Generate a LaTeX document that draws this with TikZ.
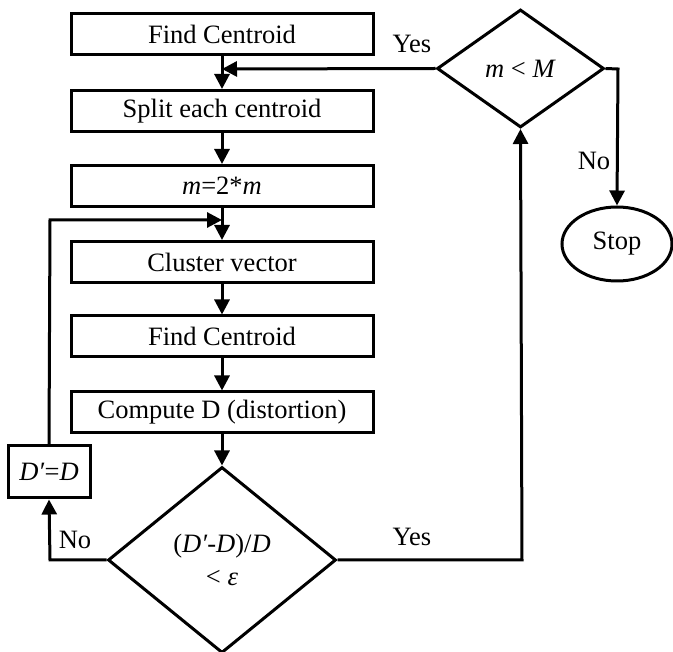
\documentclass[tikz,border=0pt]{standalone}
\usepackage{fontspec}
\setmainfont{Liberation Serif}
\usetikzlibrary{shapes.geometric,arrows.meta}
\begin{document}
\begin{tikzpicture}[x=1pt,y=-1pt,
  every node/.style={font=\fontsize{26.5}{33}\selectfont},
  stepbox/.style={draw,line width=3pt,rectangle,inner sep=0pt,minimum width=302pt,minimum height=41pt},
  decide/.style={draw,line width=3pt,diamond,inner sep=0pt,align=center},
  conn/.style={line width=3pt},
  arr/.style={line width=3pt,-{Triangle[length=15pt,width=15pt]}},
  lbl/.style={inner sep=0pt}]
\useasboundingbox (0,0) rectangle (673,652);
\node[stepbox] (b1) at (222,34.5) {Find Centroid};
\node[stepbox] (b2) at (222,111) {Split each centroid};
\node[stepbox] (b3) at (222,186) {\textit{m}=2*\textit{m}};
\node[stepbox] (b4) at (222,262) {Cluster vector};
\node[stepbox] (b5) at (222,336.5) {Find Centroid};
\node[stepbox] (b6) at (222,412.5) {Compute D (distortion)};
\node[decide,minimum width=228pt,minimum height=186pt] (d1) at (222,560) {(\textit{D}\textit{′}-\textit{D})/\textit{D}\\[0pt]< \textit{ε}};
\node[decide,minimum width=167pt,minimum height=118pt] (d2) at (520.5,68.5) {\textit{m} < \textit{M}};
\node[draw,line width=3pt,ellipse,inner sep=0pt,minimum width=110pt,minimum height=74pt] (stop) at (617,244) {Stop};
\node[draw,line width=3pt,rectangle,inner sep=0pt,minimum width=82pt,minimum height=52pt] (e) at (49,472) {\textit{D}\textit{′}=\textit{D}};
\coordinate (j) at (222,220);
\coordinate (m1) at (222,69);
\coordinate (r1) at (522,560);
\coordinate (n1) at (618,69);
\coordinate (l1) at (50,560);
\coordinate (l2) at (50,220);
% main chain
\draw[arr] (b1.south) -- (b2.north);
\draw[arr] (b2.south) -- (b3.north);
\draw[arr] (b3.south) -- (b4.north);
\draw[arr] (b4.south) -- (b5.north);
\draw[arr] (b5.south) -- (b6.north);
\draw[arr] (b6.south) -- (d1.north);
% yes from bottom diamond
\draw[arr] (d1.east) -- (r1) -- (d2.south);
% yes from top diamond back
\draw[arr] (d2.west) -- (m1);
% no to stop
\draw[arr] (d2.east) -- (n1) -- (stop.north);
% no loop
\draw[arr] (d1.west) -- (l1) -- (e.south);
\draw[arr] (e.north) -- (l2) -- (j);
% labels
\node[lbl] (y1) at (412,44) {Yes};
\node[lbl] (n2) at (594,161) {No};
\node[lbl] (y2) at (412,537) {Yes};
\node[lbl] (n3) at (75,540) {No};
\end{tikzpicture}
\end{document}
